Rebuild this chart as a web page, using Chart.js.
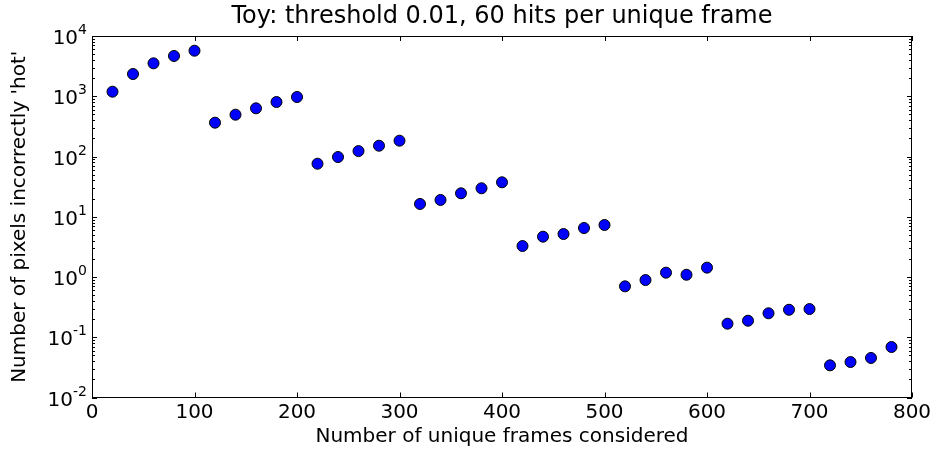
<!DOCTYPE html>
<html>
<head>
<meta charset="utf-8">
<script src="https://cdn.jsdelivr.net/npm/chart.js@4/dist/chart.umd.min.js"></script>
<style>
html,body{margin:0;padding:0;background:#fff;}
#wrap{width:936px;height:450px;position:relative;}
</style>
</head>
<body>
<div id="wrap"><canvas id="c" width="936" height="450"></canvas></div>
<script>
const chartTitle = "Toy: threshold 0.01, 60 hits per unique frame";
const xAxisTitle = "Number of unique frames considered";
const yAxisTitle = "Number of pixels incorrectly 'hot'";

const frames = [20, 40, 60, 80, 100, 120, 140, 160, 180, 200,
                220, 240, 260, 280, 300, 320, 340, 360, 380, 400,
                420, 440, 460, 480, 500, 520, 540, 560, 580, 600,
                620, 640, 660, 680, 700, 720, 740, 760, 780];
const hotPixels = [1190, 2340, 3520, 4660, 5700, 364, 494, 631, 803, 972,
                   75.9, 98, 123, 151, 183, 16.3, 19.0, 24.5, 29.7, 37.3,
                   3.27, 4.67, 5.17, 6.5, 7.3, 0.70, 0.89, 1.18, 1.09, 1.43,
                   0.168, 0.188, 0.25, 0.286, 0.294, 0.0342, 0.0388, 0.0453, 0.0689];

const xTicks = [0, 100, 200, 300, 400, 500, 600, 700, 800];
const yExponents = [-2, -1, 0, 1, 2, 3, 4];

const FONT = "'DejaVu Sans', 'Liberation Sans', sans-serif";

const framePlugin = {
  id: 'mplFrame',
  afterDatasetsDraw(chart) {
    const {ctx, chartArea: a, scales: {x, y}} = chart;
    ctx.save();
    ctx.strokeStyle = '#000';
    ctx.lineWidth = 1;
    ctx.strokeRect(Math.round(a.left) + 0.5, Math.round(a.top) + 0.5,
                   Math.round(a.right - a.left) - 1, Math.round(a.bottom - a.top) - 1);
    ctx.beginPath();
    xTicks.forEach(v => {
      const px = Math.round(x.getPixelForValue(v)) + 0.5;
      ctx.moveTo(px, a.bottom); ctx.lineTo(px, a.bottom - 5);
      ctx.moveTo(px, a.top); ctx.lineTo(px, a.top + 5);
    });
    yExponents.forEach(e => {
      const py = Math.round(y.getPixelForValue(Math.pow(10, e))) + 0.5;
      ctx.moveTo(a.left, py); ctx.lineTo(a.left + 5, py);
      ctx.moveTo(a.right, py); ctx.lineTo(a.right - 5, py);
      if (e < yExponents[yExponents.length - 1]) {
        for (let m = 2; m <= 9; m++) {
          const pm = Math.round(y.getPixelForValue(m * Math.pow(10, e))) + 0.5;
          ctx.moveTo(a.left, pm); ctx.lineTo(a.left + 3, pm);
          ctx.moveTo(a.right, pm); ctx.lineTo(a.right - 3, pm);
        }
      }
    });
    ctx.stroke();

    ctx.fillStyle = '#000';
    yExponents.forEach(e => {
      const py = y.getPixelForValue(Math.pow(10, e));
      const exp = String(e);
      ctx.font = '14px ' + FONT;
      const ew = ctx.measureText(exp).width;
      const rightEdge = a.left - 5;
      ctx.textBaseline = 'alphabetic';
      ctx.textAlign = 'left';
      ctx.fillText(exp, rightEdge - ew, py - 2);
      ctx.font = '20px ' + FONT;
      ctx.textAlign = 'right';
      ctx.fillText('10', rightEdge - ew, py + 8);
    });

    ctx.textAlign = 'center';
    ctx.textBaseline = 'middle';
    ctx.font = '24px ' + FONT;
    ctx.fillText(chartTitle, (a.left + a.right) / 2, 17);
    ctx.font = '20px ' + FONT;
    ctx.fillText(xAxisTitle, (a.left + a.right) / 2, 437);
    ctx.save();
    ctx.translate(20, (a.top + a.bottom) / 2);
    ctx.rotate(-Math.PI / 2);
    ctx.fillText(yAxisTitle, 0, 0);
    ctx.restore();
    ctx.restore();
  }
};

new Chart(document.getElementById('c'), {
  type: 'scatter',
  data: {
    datasets: [{
      data: frames.map((f, i) => ({x: f, y: hotPixels[i]})),
      pointRadius: 5.5,
      pointHoverRadius: 5.5,
      backgroundColor: '#0000ff',
      borderColor: '#000000',
      borderWidth: 1
    }]
  },
  options: {
    responsive: false,
    animation: false,
    events: [],
    layout: {padding: {top: 36, right: 24, left: 0, bottom: 0}},
    plugins: {legend: {display: false}, tooltip: {enabled: false}, title: {display: false}},
    scales: {
      x: {
        type: 'linear', min: 0, max: 800,
        afterBuildTicks: s => { s.ticks = xTicks.map(v => ({value: v})); },
        afterFit: s => { s.height = 52.5; },
        grid: {display: false, drawTicks: false},
        border: {display: false},
        ticks: {color: '#000', font: {family: FONT, size: 20}, padding: 3, maxRotation: 0,
                callback: v => String(v)}
      },
      y: {
        type: 'logarithmic', min: 0.01, max: 10000,
        afterBuildTicks: s => { s.ticks = yExponents.map(e => ({value: Math.pow(10, e)})); },
        afterFit: s => { s.width = 92; },
        grid: {display: false, drawTicks: false},
        border: {display: false},
        ticks: {display: false}
      }
    }
  },
  plugins: [framePlugin]
});
</script>
</body>
</html>
